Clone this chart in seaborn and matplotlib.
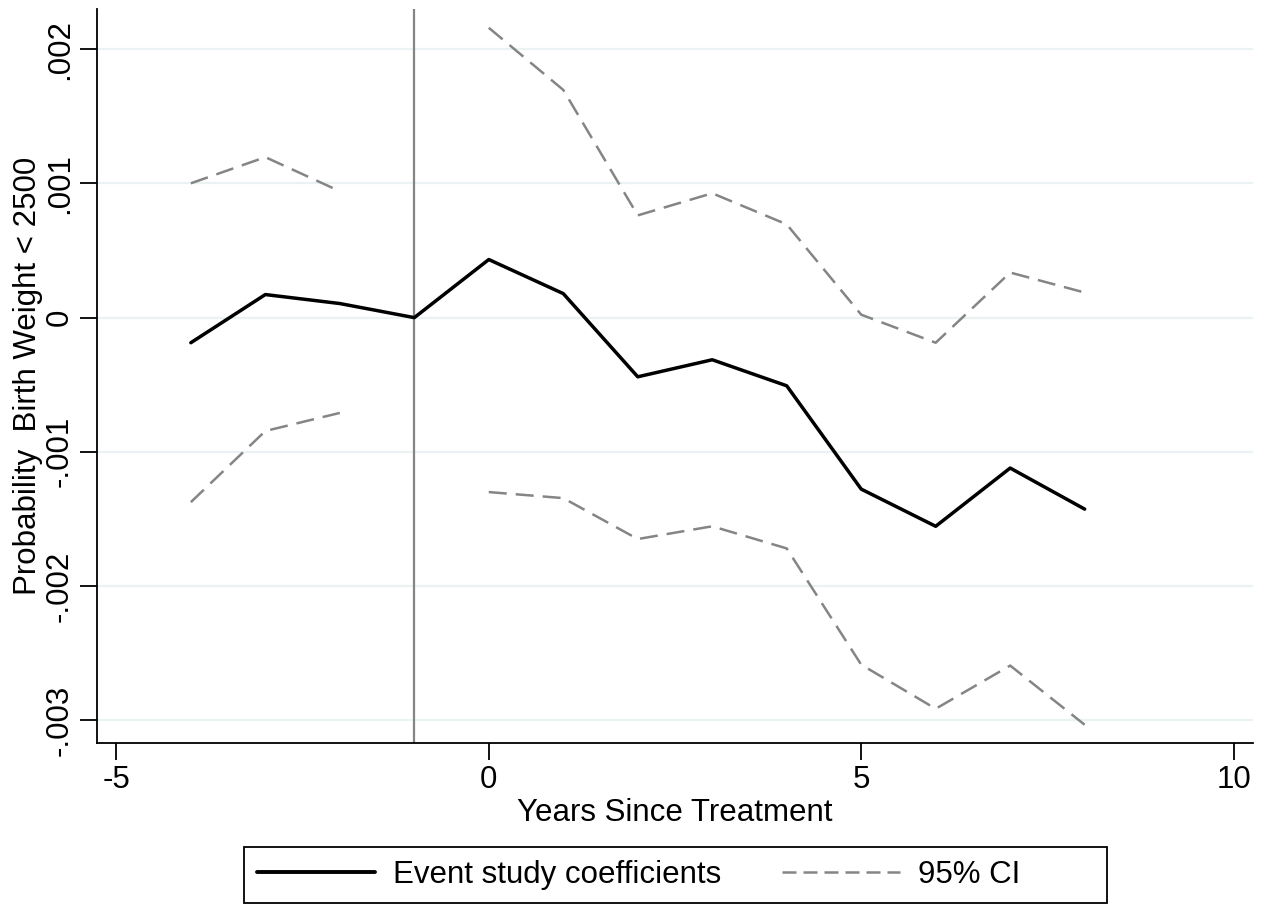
import numpy as np
import pandas as pd
import matplotlib
matplotlib.use("Agg")
import matplotlib.pyplot as plt
import seaborn as sns
from matplotlib.ticker import FuncFormatter
from matplotlib.lines import Line2D
from matplotlib.patches import Rectangle

years = [-4, -3, -2, -1, 0, 1, 2, 3, 4, 5, 6, 7, 8]
coef = [-0.000187, 0.000172, 0.000105, 0.0, 0.000433, 0.000179, -0.000441,
        -0.000314, -0.000508, -0.001278, -0.001555, -0.001121, -0.001427]
ci_upper = [0.001001, 0.001196, 0.000942, np.nan, 0.00216, 0.001697, 0.000762,
            0.000927, 0.000695, 0.000022, -0.000187, 0.000336, 0.000187]
ci_lower = [-0.001375, -0.000845, -0.00071, np.nan, -0.0013, -0.001345, -0.00165,
            -0.001555, -0.00172, -0.002586, -0.002915, -0.002593, -0.003034]
x_ticks = [-5, 0, 5, 10]
y_ticks = [-0.003, -0.002, -0.001, 0, 0.001, 0.002]

df = pd.DataFrame({"year": years, "coef": coef, "upper": ci_upper, "lower": ci_lower})

sns.set_style("white")
plt.rcParams['font.family'] = ['Liberation Sans', 'DejaVu Sans']
plt.rcParams['axes.unicode_minus'] = False
plt.rcParams['text.color'] = 'black'
plt.rcParams['axes.labelcolor'] = 'black'
plt.rcParams['xtick.color'] = 'black'
plt.rcParams['ytick.color'] = 'black'

FS = 22.5
fig = plt.figure(figsize=(12.65, 9.07), dpi=100)
ax = fig.add_axes([97/1265, 1 - 743/907, (1253-97)/1265, (743-9)/907])

for yv in y_ticks:
    ax.axhline(yv, color="#EAF2F3", lw=1.6, zorder=0)

ax.axvline(-1, color="#858585", lw=1.6, zorder=1)

gray = "#858585"
dash = (0, (7.2, 3.6))
for col in ["upper", "lower"]:
    sub = df[["year", col]]
    pre = sub[sub.year < -1]
    post = sub[sub.year > -1]
    for part in (pre, post):
        sns.lineplot(data=part, x="year", y=col, ax=ax, color=gray, lw=1.8,
                     linestyle=dash, zorder=2)
sns.lineplot(data=df, x="year", y="coef", ax=ax, color="black", lw=2.5, zorder=3)

ax.set_xlim(-5.26, 10.26)
ax.set_ylim(-0.00317, 0.0023)
ax.set_xticks(x_ticks)
ax.set_yticks(y_ticks)

def fmt(v, pos):
    if abs(v) < 1e-12:
        return "0"
    return f"{v:.3f}".replace("0.", ".")
ax.yaxis.set_major_formatter(FuncFormatter(fmt))

ax.tick_params(axis="both", direction="out", length=12, width=1.3, labelsize=FS,
               color="black", labelcolor="black", pad=4, bottom=True, left=True)
for lab in ax.get_yticklabels():
    lab.set_rotation(90)
    lab.set_va("center")

ax.set_xlabel("Years Since Treatment", fontsize=FS, labelpad=2)
ax.set_ylabel("Probability  Birth Weight < 2500", fontsize=FS, labelpad=1.5)

for s in ["top", "right"]:
    ax.spines[s].set_visible(False)
for s in ["left", "bottom"]:
    ax.spines[s].set_color("black")
    ax.spines[s].set_linewidth(1.3)

handles = [Line2D([0], [0], color="black", lw=2.8),
           Line2D([0], [0], color=gray, lw=1.8, linestyle=(0, (5.6, 2.8)))]
leg = fig.legend(handles, ["Event study coefficients", "95% CI"],
                 loc="center left", bbox_to_anchor=(257/1265, 1 - 875/907), ncol=2,
                 fontsize=FS, frameon=False, borderpad=0, borderaxespad=0,
                 handlelength=3.78, columnspacing=1.92, handletextpad=0.58)
fig.patches.append(Rectangle((244/1265, 1 - 903/907), (1107-244)/1265, 56/907,
                             transform=fig.transFigure, fill=False,
                             edgecolor="black", linewidth=1.3))

fig.savefig("out.png", dpi=100, facecolor="white")
